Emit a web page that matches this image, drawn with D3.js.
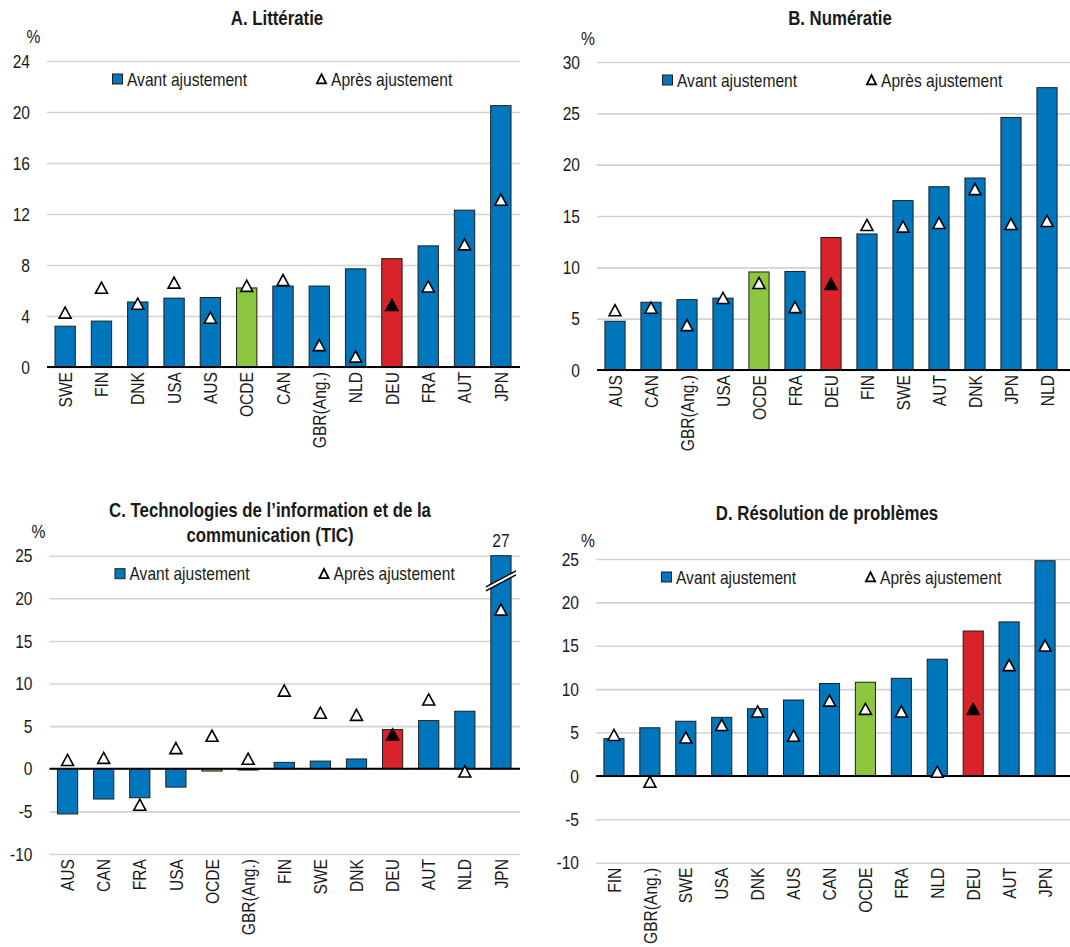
<!DOCTYPE html>
<html>
<head>
<meta charset="utf-8">
<script src="https://cdn.jsdelivr.net/npm/d3@7"></script>
<style>
body { margin: 0; background: #fff; }
svg { font-family: "Liberation Sans", Arial, sans-serif; }
</style>
</head>
<body>
<div id="chart"></div>
<script>
// A. Littératie
var litCats = ["SWE", "FIN", "DNK", "USA", "AUS", "OCDE", "CAN", "GBR(Ang.)", "NLD", "DEU", "FRA", "AUT", "JPN"];
var litAvant = [3.2, 3.6, 5.1, 5.4, 5.45, 6.2, 6.35, 6.35, 7.7, 8.5, 9.5, 12.3, 20.5];
var litApres = [4.25, 6.2, 4.95, 6.6, 3.85, 6.35, 6.8, 1.7, 0.8, 4.85, 6.3, 9.6, 13.1];
var litTicks = [0, 4, 8, 12, 16, 20, 24];

// B. Numératie
var numCats = ["AUS", "CAN", "GBR(Ang.)", "USA", "OCDE", "FRA", "DEU", "FIN", "SWE", "AUT", "DNK", "JPN", "NLD"];
var numAvant = [4.75, 6.6, 6.85, 7.0, 9.55, 9.6, 12.9, 13.25, 16.5, 17.85, 18.7, 24.6, 27.5];
var numApres = [5.8, 6.05, 4.35, 7.0, 8.45, 6.1, 8.35, 14.1, 13.95, 14.3, 17.6, 14.2, 14.5];
var numTicks = [0, 5, 10, 15, 20, 25, 30];

// C. TIC
var ticCats = ["AUS", "CAN", "FRA", "USA", "OCDE", "GBR(Ang.)", "FIN", "SWE", "DNK", "DEU", "AUT", "NLD", "JPN"];
var ticAvant = [-5.3, -3.55, -3.4, -2.15, -0.27, -0.15, 0.75, 0.9, 1.15, 4.6, 5.65, 6.75, 27];
var ticApres = [1.0, 1.25, -4.25, 2.4, 3.85, 1.15, 9.15, 6.55, 6.3, 4.0, 8.1, -0.35, 18.65];
var ticTicks = [-10, -5, 0, 5, 10, 15, 20, 25];

// D. Résolution de problèmes
var resCats = ["FIN", "GBR(Ang.)", "SWE", "USA", "DNK", "AUS", "CAN", "OCDE", "FRA", "NLD", "DEU", "AUT", "JPN"];
var resAvant = [4.3, 5.55, 6.3, 6.75, 7.75, 8.75, 10.65, 10.8, 11.25, 13.45, 16.7, 17.75, 24.8];
var resApres = [4.7, -0.7, 4.4, 5.85, 7.4, 4.6, 8.65, 7.7, 7.4, 0.45, 7.7, 12.75, 15.0];
var resTicks = [-10, -5, 0, 5, 10, 15, 20, 25];

var BLUE = "#0077bd", GREEN = "#8dc63f", RED = "#d9232a";

var svg = d3.select("#chart").append("svg")
    .attr("width", 1070)
    .attr("height", 947);

var triPath = "M0,-5.8L6,5.3L-6,5.3Z";

function barColor(c) {
    if (c === "OCDE") return GREEN;
    if (c === "DEU") return RED;
    return BLUE;
}

function drawPanel(p) {
    var g = svg.append("g");
    var x = d3.scaleBand().domain(p.cats).range([p.left, p.right])
        .paddingInner(0.44).paddingOuter(0.22);
    var y = d3.scaleLinear().domain([p.ticks[0], p.ticks[p.ticks.length - 1]]).range([p.bottom, p.top]);
    var yMax = p.ticks[p.ticks.length - 1];

    // gridlines + tick labels
    var yAxis = d3.axisLeft(y).tickValues(p.ticks).tickFormat(function(d) { return String(d); })
        .tickSizeInner(-(p.right - p.left)).tickSizeOuter(0).tickPadding(17);
    var ya = g.append("g").attr("transform", "translate(" + p.left + ",0)").call(yAxis);
    ya.select(".domain").remove();
    ya.selectAll(".tick line").attr("stroke", "#d3d3d3").attr("stroke-width", 1.6)
        .attr("x2", p.gridRight - p.left);
    ya.selectAll(".tick text").attr("font-size", 19).attr("fill", "#1a1a1a").attr("font-family", null);

    // x labels
    var xAxis = d3.axisBottom(x).tickSize(0).tickPadding(0);
    var xa = g.append("g").attr("transform", "translate(0," + p.bottom + ")").call(xAxis);
    xa.select(".domain").remove();
    xa.selectAll(".tick text")
        .attr("font-size", 19).attr("fill", "#1a1a1a").attr("font-family", null)
        .attr("text-anchor", "end")
        .attr("transform", "rotate(-90)")
        .attr("x", -5).attr("y", 0).attr("dy", "0.35em");

    // bars
    var data = p.cats.map(function(c, i) { return { cat: c, v: p.avant[i], a: p.apres[i] }; });
    g.selectAll("rect.bar").data(data).enter().append("rect")
        .attr("class", "bar")
        .attr("x", function(d) { return x(d.cat); })
        .attr("width", x.bandwidth())
        .attr("y", function(d) { return y(Math.min(Math.max(d.v, 0), yMax)); })
        .attr("height", function(d) { return Math.abs(y(Math.min(d.v, yMax)) - y(0)); })
        .attr("fill", function(d) { return barColor(d.cat); })
        .attr("stroke", "#1e1e1e").attr("stroke-width", 1);

    // zero line
    g.append("line").attr("x1", p.left).attr("x2", p.gridRight)
        .attr("y1", y(0)).attr("y2", y(0))
        .attr("stroke", "#000").attr("stroke-width", 2);

    // break for truncated bars
    data.filter(function(d) { return d.v > yMax; }).forEach(function(d) {
        var cx = x(d.cat) + x.bandwidth() / 2, cy = y(p.breakAt);
        var bg = g.append("g").attr("transform", "translate(" + cx + "," + cy + ")");
        bg.append("polygon").attr("points", "-15,9 15,-7 15,-3 -15,13").attr("fill", "#fff");
        bg.append("line").attr("x1", -15).attr("y1", 9).attr("x2", 15).attr("y2", -7)
            .attr("stroke", "#000").attr("stroke-width", 1.4);
        bg.append("line").attr("x1", -15).attr("y1", 13).attr("x2", 15).attr("y2", -3)
            .attr("stroke", "#000").attr("stroke-width", 1.4);
        g.append("text").attr("x", cx).attr("y", y(yMax) - 9)
            .attr("text-anchor", "middle").attr("font-size", 19).attr("fill", "#1a1a1a")
            .text(String(d.v));
    });

    // triangles
    g.selectAll("path.tri").data(data).enter().append("path")
        .attr("class", "tri")
        .attr("d", triPath)
        .attr("transform", function(d) { return "translate(" + (x(d.cat) + x.bandwidth() / 2) + "," + y(d.a) + ")"; })
        .attr("fill", function(d) { return d.cat === "DEU" ? "#000" : "#fff"; })
        .attr("stroke", "#000").attr("stroke-width", 1.6).attr("stroke-linejoin", "miter");

    // title
    p.title.forEach(function(t, i) {
        g.append("text").attr("x", p.titleX).attr("y", p.titleY + i * 25)
            .attr("text-anchor", "middle").attr("font-size", 20.5).attr("font-weight", "bold")
            .attr("fill", "#1a1a1a").text(t);
    });

    // % label
    g.append("text").attr("x", p.pctX).attr("y", p.pctY).attr("text-anchor", "middle")
        .attr("font-size", 19).attr("fill", "#1a1a1a").text("%");

    // legend
    var ly = y(yMax) + 18;
    var lg = g.append("g").attr("transform", "translate(" + p.left + "," + ly + ")");
    lg.append("rect").attr("x", 65.5).attr("y", -5).attr("width", 10).attr("height", 10)
        .attr("fill", BLUE).attr("stroke", "#1e1e1e").attr("stroke-width", 1);
    lg.append("text").attr("x", 80).attr("y", 0).attr("dy", "0.35em")
        .attr("font-size", 19).attr("fill", "#1a1a1a").text("Avant ajustement");
    lg.append("path").attr("d", "M0,-4.8L4.6,4.4L-4.6,4.4Z").attr("transform", "translate(274.5,0)")
        .attr("fill", "#fff").attr("stroke", "#000").attr("stroke-width", 1.8);
    lg.append("text").attr("x", 284).attr("y", 0).attr("dy", "0.35em")
        .attr("font-size", 19).attr("fill", "#1a1a1a").text("Après ajustement");
}

drawPanel({ cats: litCats, avant: litAvant, apres: litApres, ticks: litTicks,
    left: 47, right: 519, gridRight: 520, top: 61, bottom: 367,
    title: ["A. Littératie"], titleX: 277, titleY: 25, pctX: 33.5, pctY: 43 });

drawPanel({ cats: numCats, avant: numAvant, apres: numApres, ticks: numTicks,
    left: 597, right: 1065, gridRight: 1070, top: 62, bottom: 370,
    title: ["B. Numératie"], titleX: 840, titleY: 25, pctX: 588, pctY: 45 });

drawPanel({ cats: ticCats, avant: ticAvant, apres: ticApres, ticks: ticTicks,
    left: 49.5, right: 519, gridRight: 520, top: 555.7, bottom: 854, breakAt: 22.4,
    title: ["C. Technologies de l\u2019information et de la", "communication (TIC)"],
    titleX: 270, titleY: 517, pctX: 38.5, pctY: 538 });

drawPanel({ cats: resCats, avant: resAvant, apres: resApres, ticks: resTicks,
    left: 596, right: 1063, gridRight: 1070, top: 559, bottom: 862.7,
    title: ["D. Résolution de problèmes"], titleX: 827, titleY: 520, pctX: 588, pctY: 547 });

// narrow the Arial-metric font to an Arial Narrow look
svg.selectAll("text").each(function() {
    var w = this.getComputedTextLength();
    d3.select(this).attr("textLength", w * 0.82).attr("lengthAdjust", "spacingAndGlyphs");
});
</script>
</body>
</html>
